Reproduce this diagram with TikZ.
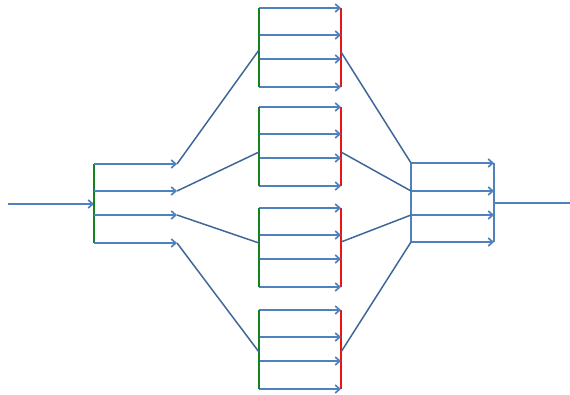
\documentclass[tikz,border=0pt]{standalone}
\usepackage{xcolor}
\usepackage{tikz}
\usetikzlibrary{arrows.meta}
\definecolor{flowblue}{RGB}{79,129,189}
\definecolor{splitgreen}{RGB}{20,130,30}
\definecolor{joinred}{RGB}{235,20,20}
\tikzset{
  flow-line/.style={draw=flowblue, line width=1.7pt},
  flow-arrow/.style={flow-line, -{Straight Barb[length=4.5pt,width=8pt]}},
  split-bar/.style={draw=splitgreen, line width=1.6pt},
  join-bar/.style={draw=joinred, line width=1.6pt},
  merge-bar/.style={draw=flowblue, line width=1.7pt},
  link-line/.style={draw=flowblue!80!black, line width=1.5pt}
}
\begin{document}
\begin{tikzpicture}[x=1pt,y=-1pt]
\useasboundingbox (0,0) rectangle (570,394);
% input and first split
\coordinate (in) at (8,204);
\coordinate (split-mid) at (94,204);
\coordinate (split-top) at (94,164);
\coordinate (split-bot) at (94,243);
\draw[flow-arrow] (in) -- (split-mid);
\draw[split-bar] (split-top) -- (split-bot);
\foreach \i/\y in {1/164,2/191,3/215,4/243} {
  \coordinate (s\i) at (94,\y);
  \coordinate (t\i) at (177,\y);
  \draw[flow-arrow] (s\i) -- (t\i);
}
% middle blocks
\foreach \b/\top/\inl/\outl in {1/8/50/52, 2/107/152/152, 3/208/243/242, 4/310/352/352} {
  \coordinate (b\b-top) at (259,\top);
  \coordinate (b\b-bot) at (259,{\top+79});
  \coordinate (b\b-rtop) at (341,\top);
  \coordinate (b\b-rbot) at (341,{\top+79});
  \coordinate (b\b-in) at (259,\inl);
  \coordinate (b\b-out) at (341,\outl);
  \draw[join-bar] (b\b-rtop) -- (b\b-rbot);
  \foreach \k/\d in {1/0,2/27,3/51,4/79} {
    \coordinate (b\b-s\k) at (259,{\top+\d});
    \coordinate (b\b-t\k) at (341,{\top+\d});
    \draw[flow-arrow] (b\b-s\k) -- (b\b-t\k);
  }
  \draw[split-bar] (b\b-top) -- (b\b-bot);
  \draw[link-line] (t\b) -- (b\b-in);
}
% merge block and output
\coordinate (merge-top) at (411,163);
\coordinate (merge-bot) at (411,242);
\coordinate (out-top) at (494,163);
\coordinate (out-bot) at (494,242);
\coordinate (out-mid) at (494,203);
\coordinate (out) at (570,203);
\draw[merge-bar] (merge-top) -- (merge-bot);
\foreach \i/\y in {1/163,2/191,3/215,4/242} {
  \coordinate (r\i) at (411,\y);
  \coordinate (q\i) at (494,\y);
  \draw[flow-arrow] (r\i) -- (q\i);
  \draw[link-line] (b\i-out) -- (r\i);
}
\draw[merge-bar] (out-top) -- (out-bot);
\draw[flow-line] (out-mid) -- (out);
\end{tikzpicture}
\end{document}
